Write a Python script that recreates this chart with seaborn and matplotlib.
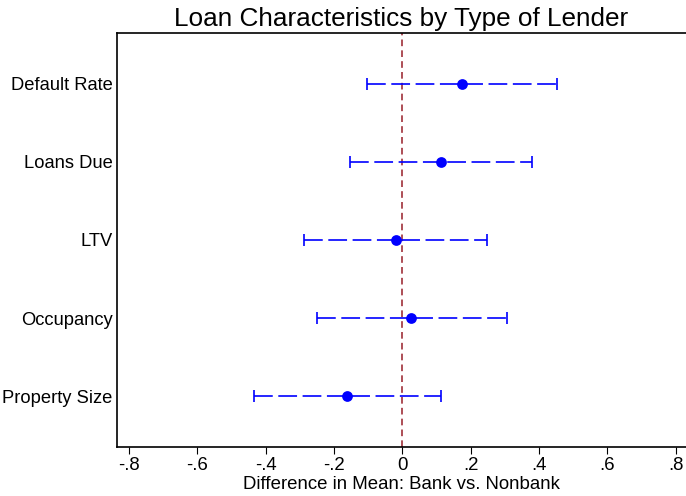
import matplotlib
matplotlib.use("Agg")
import matplotlib.pyplot as plt
import seaborn as sns
import pandas as pd
import numpy as np

categories = ["Default Rate", "Loans Due", "LTV", "Occupancy", "Property Size"]
estimates = [0.174, 0.113, -0.020, 0.026, -0.161]
ci_low = [-0.103, -0.152, -0.288, -0.251, -0.434]
ci_high = [0.452, 0.379, 0.249, 0.307, 0.113]
xticks = [-0.8, -0.6, -0.4, -0.2, 0, 0.2, 0.4, 0.6, 0.8]
xticklabels = ["-.8", "-.6", "-.4", "-.2", "0", ".2", ".4", ".6", ".8"]

sns.set_style("white")
plt.rcParams['font.family'] = ['Liberation Sans', 'DejaVu Sans']
plt.rcParams['text.color'] = 'black'
plt.rcParams['axes.labelcolor'] = 'black'
plt.rcParams['xtick.color'] = 'black'
plt.rcParams['ytick.color'] = 'black'

df = pd.DataFrame({"cat": categories, "est": estimates, "lo": ci_low, "hi": ci_high})
df["pos"] = np.arange(len(df))

fig = plt.figure(figsize=(6.86, 4.96), dpi=100)
ax = fig.add_axes([0.1706, 0.0988, 0.8294, 0.8347])

lw = 1.2
eb = ax.errorbar(df["est"], df["pos"], xerr=[df["est"] - df["lo"], df["hi"] - df["est"]],
                 fmt="none", ecolor="blue", elinewidth=lw, capsize=4, capthick=lw, zorder=2)
for lc in eb[2]:
    lc.set_linestyle((0, (13.5 / lw, 4.0 / lw)))

sns.scatterplot(data=df, x="est", y="pos", color="blue", s=60, edgecolor="blue",
                linewidth=0, ax=ax, zorder=3)

ax.axvline(0, color="#a0303a", linestyle=(0, (4, 2.5)), linewidth=1.2, zorder=1)

ax.set_xlim(-0.835, 0.83)
ax.set_ylim(len(df) - 0.35, -0.65)
ax.set_yticks(df["pos"])
ax.set_yticklabels(df["cat"], fontsize=13.2)
ax.set_xticks(xticks)
ax.set_xticklabels(xticklabels, fontsize=13.4)
ax.tick_params(axis="x", which="both", bottom=True, length=5, width=0.8, pad=2, colors="black")
ax.tick_params(axis="y", left=False, length=0, pad=3.2, colors="black")
ax.set_xlabel("Difference in Mean: Bank vs. Nonbank", fontsize=13.4, labelpad=2, color="black")
ax.set_ylabel("")
ax.set_title("Loan Characteristics by Type of Lender", fontsize=18.8, pad=5, color="black")

for s in ["left", "bottom", "top"]:
    ax.spines[s].set_visible(True)
    ax.spines[s].set_color("black")
    ax.spines[s].set_linewidth(1.2)
ax.spines["right"].set_visible(False)

fig.savefig("out.png", dpi=100)
